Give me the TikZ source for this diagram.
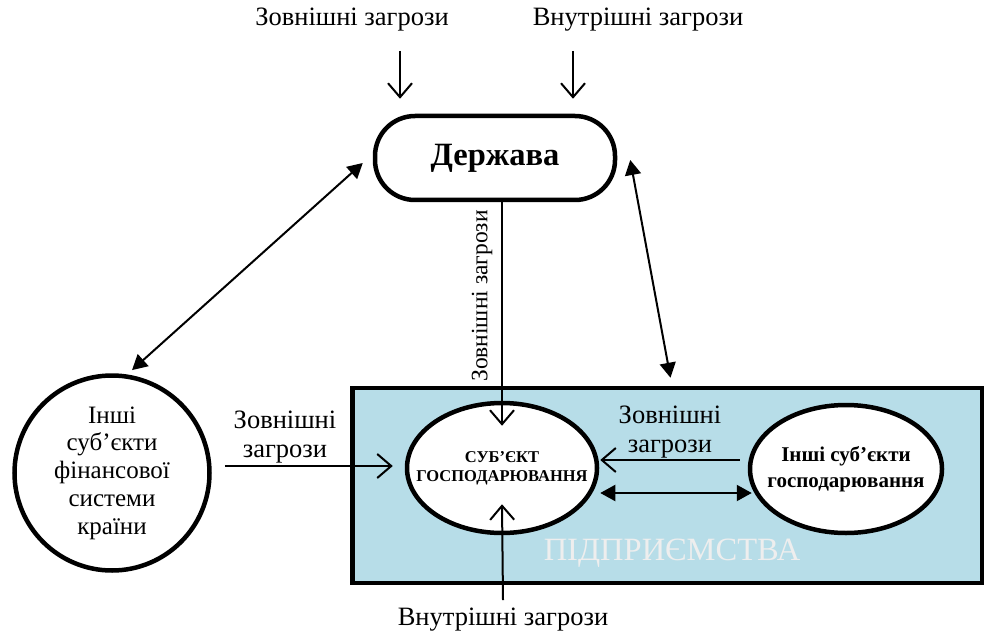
\documentclass[tikz,border=0pt]{standalone}
\usepackage{fontspec}
\setmainfont{Liberation Serif}
\usetikzlibrary{arrows.meta, calc, positioning, shapes.geometric}
\definecolor{entblue}{RGB}{183,221,232}
\definecolor{paleword}{RGB}{238,238,238}

\begin{document}
\begin{tikzpicture}[x=1pt, y=-1pt,
    threat/.style={line width=2pt, -{Straight Barb[length=14pt,width=24pt]}},
    link/.style={line width=2pt, {Triangle[length=15pt,width=16pt]}-{Triangle[length=15pt,width=16pt]}},
    blob/.style={draw, line width=4.5pt, fill=white, align=center, inner sep=0pt},
    oval/.style={blob, ellipse, inner xsep=-50pt},
    lbl/.style={font=\fontsize{26.5}{29}\selectfont, align=center, inner sep=0pt}]
    \useasboundingbox (0,0) rectangle (984,636);

    % Enterprise area
    \node[draw, line width=4.5pt, fill=entblue, minimum width=630pt, minimum height=195pt, inner sep=0pt] (ent) at (667.5,485.5) {};
    \node[font=\fontsize{32.5}{32.5}\selectfont, text=paleword, inner sep=0pt] (entname) at (672,553) {ПІДПРИЄМСТВА};

    % Main nodes
    \node[blob, rounded corners=40pt, minimum width=240pt, minimum height=84pt, font=\fontsize{32.5}{32.5}\selectfont\bfseries] (gov) at (495,158) {Держава};
    \node[blob, circle, minimum size=195pt, font=\fontsize{25}{27.7}\selectfont] (others) at (112,473) {Інші\\суб’єкти\\фінансової\\системи\\країни};
    \node[oval, minimum width=190pt, minimum height=130pt, font=\fontsize{16.5}{19}\selectfont\bfseries] (subj) at (502,468) {СУБ’ЄКТ\\ГОСПОДАРЮВАННЯ};
    \node[oval, minimum width=192pt, minimum height=128pt, font=\fontsize{21}{26}\selectfont\bfseries] (partners) at (846,469) {Інші суб’єкти\\господарювання};

    % Threat labels
    \node[lbl] (topext) at (352,20) {Зовнішні загрози};
    \node[lbl] (topint) at (638,20) {Внутрішні загрози};
    \node[lbl] (botint) at (503,620) {Внутрішні загрози};
    \node[lbl, rotate=90, font=\fontsize{23.5}{24}\selectfont] (govext) at (482,296) {Зовнішні загрози};
    \node[lbl] (leftext) at (285,437) {Зовнішні\\загрози};
    \node[lbl] (rightext) at (670,432) {Зовнішні\\загрози};

    % Threat arrows
    \draw[threat] ($(topext.south)+(48,19)$) -- ($(gov.north)+(-95,-15)$);
    \draw[threat] ($(topint.south)+(-65,19)$) -- ($(gov.north)+(78,-15)$);
    \draw[threat] (gov.south -| subj.north) -- ($(subj.north)+(0,25)$);
    \draw[threat] ($(botint.north)+(0,-8)$) -- ($(subj.south)+(0,-31)$);
    \draw[threat] ($(others.east)+(13,-7)$) -- ($(subj.west)+(-12,-2)$);
    \draw[threat] ($(partners.west)+(-8,-9)$) -- ($(subj.east)+(1,-8)$);

    % Links
    \draw[link] ($(gov.west)+(-10,5)$) -- ($(others.79)+(1,-5)$);
    \draw[link] ($(gov.east)+(13,2)$) -- ($(ent.north)+(3,-8)$);
    \draw[link] ($(subj.east)+(1,25)$) -- ($(partners.west)+(4,24)$);
\end{tikzpicture}
\end{document}
